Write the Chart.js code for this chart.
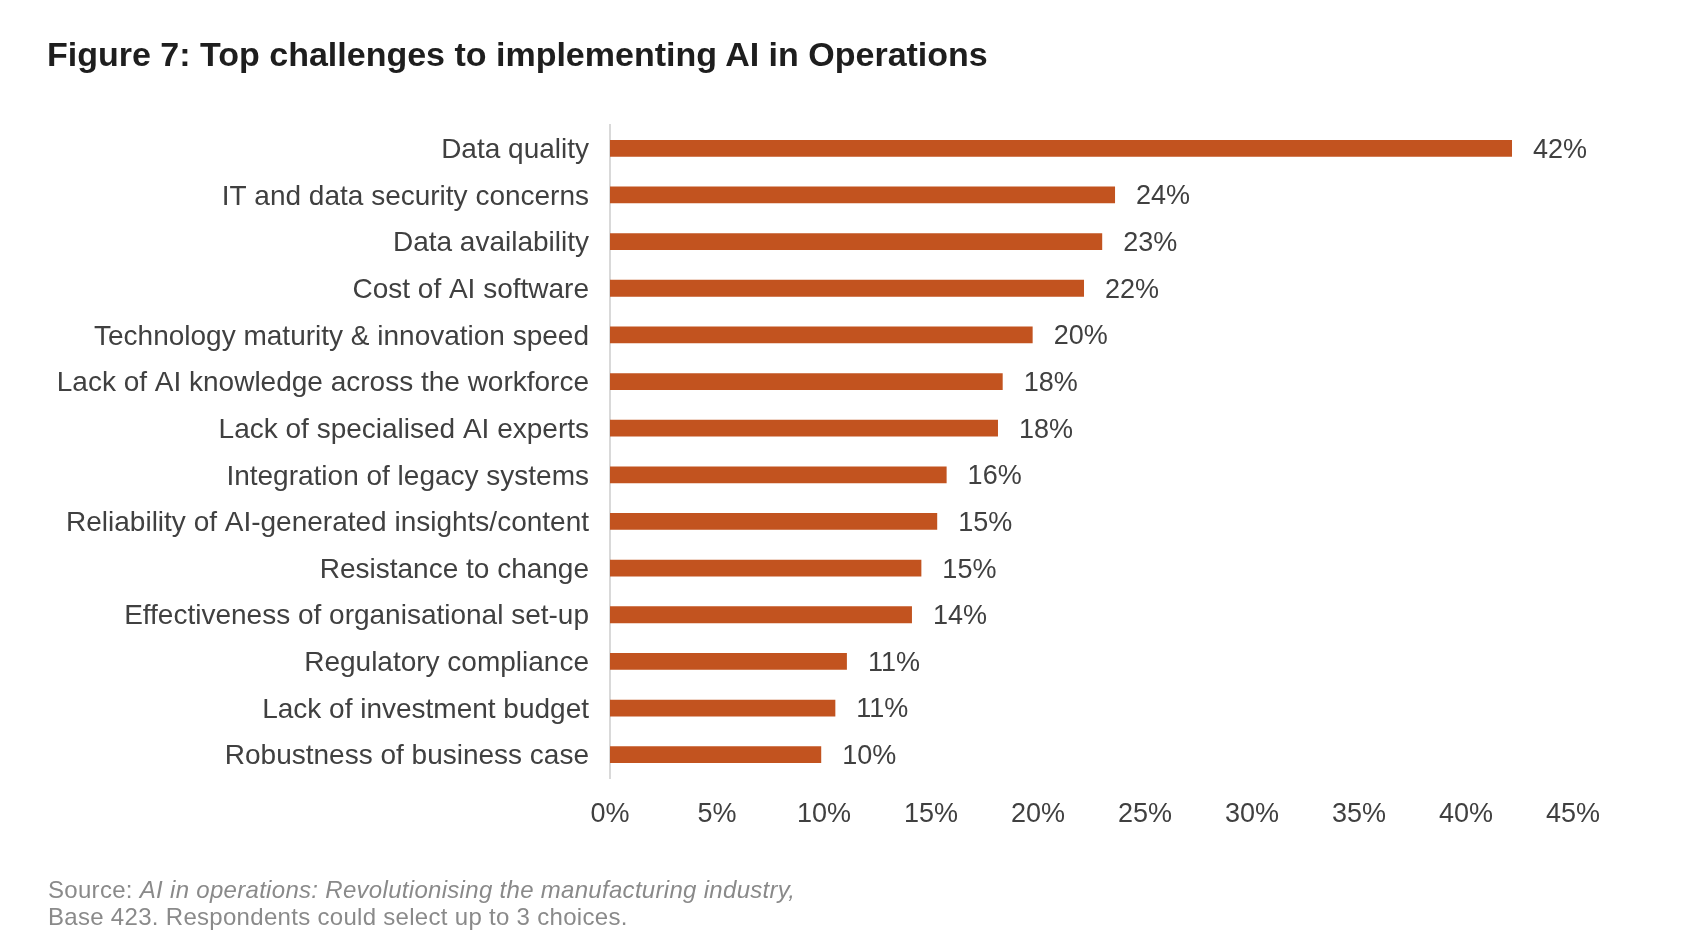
<!DOCTYPE html>
<html>
<head>
<meta charset="utf-8">
<script src="https://cdn.jsdelivr.net/npm/chart.js@4.4.1/dist/chart.umd.min.js"></script>
<style>
  html, body { margin:0; padding:0; background:#fff; }
  body { width:1692px; height:948px; position:relative; overflow:hidden; font-family:"Liberation Sans", Arial, Helvetica, sans-serif; }
  #title { position:absolute; left:47px; top:35px; font-size:34px; font-weight:bold; color:#1e1e1e; white-space:nowrap; }
  #source { position:absolute; left:48px; top:876px; font-size:24px; line-height:27px; letter-spacing:0.3px; color:#8a8a8a; white-space:nowrap; }
  #wrap { position:absolute; left:0; top:0; width:1692px; height:948px; }
</style>
</head>
<body>
<div id="wrap"><canvas id="chart"></canvas></div>
<div id="title">Figure 7: Top challenges to implementing AI in Operations</div>
<div id="source">Source: <i>AI in operations: Revolutionising the manufacturing industry,</i><br>Base 423. Respondents could select up to 3 choices.</div>
<script>
// Retos principales (en %)
const categories = [
  'Data quality',
  'IT and data security concerns',
  'Data availability',
  'Cost of AI software',
  'Technology maturity & innovation speed',
  'Lack of AI knowledge across the workforce',
  'Lack of specialised AI experts',
  'Integration of legacy systems',
  'Reliability of AI-generated insights/content',
  'Resistance to change',
  'Effectiveness of organisational set-up',
  'Regulatory compliance',
  'Lack of investment budget',
  'Robustness of business case'
];
const shares = [42.15, 23.6, 23.0, 22.15, 19.75, 18.35, 18.13, 15.73, 15.29, 14.55, 14.11, 11.07, 10.53, 9.87];
const tickStep = 5;
const axisMax = 45;

const FONT = '"Liberation Sans", Arial, Helvetica, sans-serif';
const TEXT = '#404040';

// etiquetas al final de cada barra
const barLabels = {
  id: 'barLabels',
  afterDatasetsDraw(chart){
    const ctx = chart.ctx;
    const meta = chart.getDatasetMeta(0);
    ctx.save();
    ctx.font = '27px ' + FONT;
    ctx.fillStyle = TEXT;
    ctx.textAlign = 'left';
    ctx.textBaseline = 'middle';
    meta.data.forEach((bar, i) => {
      ctx.fillText(Math.round(shares[i]) + '%', bar.x + 21, bar.y + 2);
    });
    ctx.restore();
  }
};

new Chart(document.getElementById('chart'), {
  type: 'bar',
  data: {
    labels: categories,
    datasets: [{ data: shares, backgroundColor: '#C2531F', borderWidth: 0, categoryPercentage: 1, barPercentage: 0.36 }]
  },
  options: {
    indexAxis: 'y',
    responsive: true,
    maintainAspectRatio: false,
    animation: false,
    layout: { padding: { top: 125, right: 119, left: 0, bottom: 0 } },
    plugins: { legend: { display: false }, tooltip: { enabled: false }, title: { display: false } },
    scales: {
      x: {
        min: 0, max: axisMax,
        grid: { display: false },
        border: { display: false },
        ticks: { stepSize: tickStep, color: TEXT, font: { family: FONT, size: 27 }, padding: 12, callback: v => v + '%' },
        afterFit(s){ s.height = 170; }
      },
      y: {
        grid: { display: false, drawTicks: false },
        border: { display: true, color: '#d9d9d9', width: 2 },
        ticks: { color: TEXT, font: { family: FONT, size: 28 }, padding: 21, labelOffset: 2 },
        afterFit(s){ s.width = 610; }
      }
    }
  },
  plugins: [barLabels]
});
</script>
</body>
</html>
